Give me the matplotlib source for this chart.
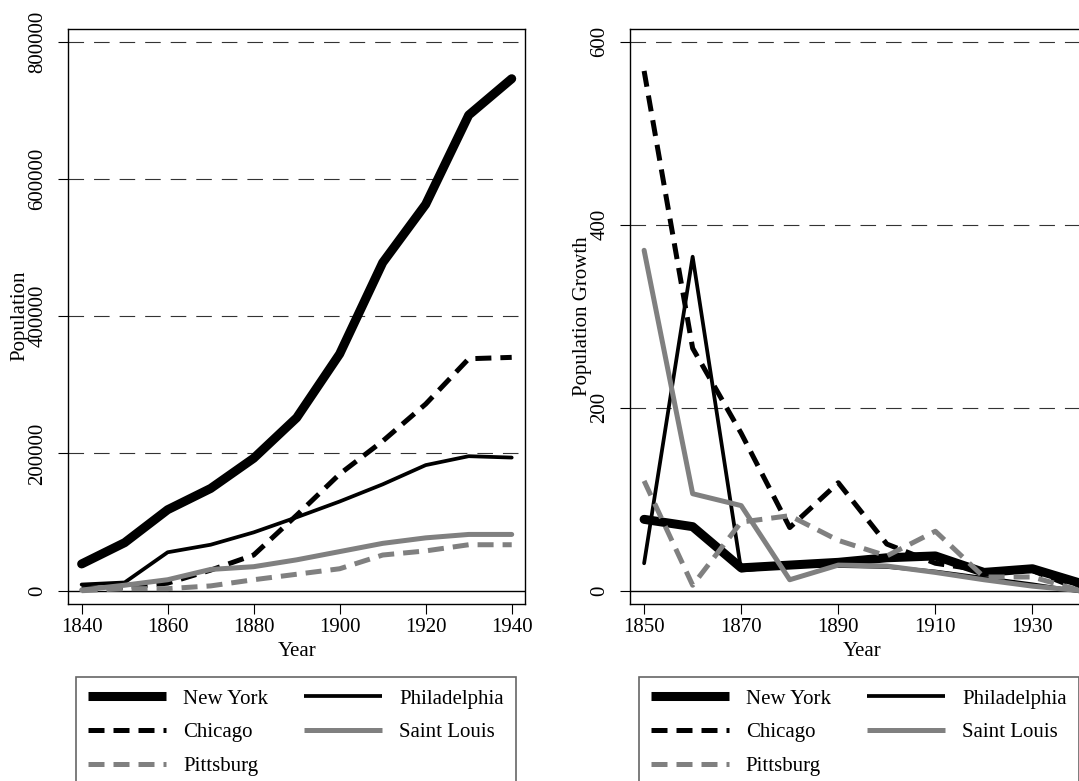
import matplotlib
matplotlib.use("Agg")
import matplotlib.pyplot as plt
from matplotlib.lines import Line2D

plt.rcParams['font.family'] = ['Liberation Serif', 'DejaVu Serif']

# Population by census year
years = [1840, 1850, 1860, 1870, 1880, 1890, 1900, 1910, 1920, 1930, 1940]
new_york = [39000, 70000, 118000, 149000, 193000, 252000, 345000, 478000, 563000, 693000, 746000]
chicago = [3000, 5000, 11000, 30000, 52000, 110000, 170000, 218000, 272000, 338000, 340000]
philadelphia = [9000, 12000, 56000, 67000, 85000, 107000, 130000, 155000, 183000, 196000, 194000]
saint_louis = [1000, 8000, 16000, 31000, 35000, 45000, 57000, 69000, 77000, 82000, 82000]
pittsburg = [0, 3000, 3000, 7000, 16000, 24000, 32000, 52000, 58000, 67000, 67000]

# Population growth (per decade)
g_years = [1850, 1860, 1870, 1880, 1890, 1900, 1910, 1920, 1930, 1940]
g_new_york = [78, 70, 25, 28, 31, 36, 38, 20, 24, 8]
g_chicago = [568, 265, 172, 69, 118, 51, 30, 22, 22, 1]
g_philadelphia = [30, 365, 22, 27, 27, 26, 21, 14, 7, -1]
g_saint_louis = [372, 106, 93, 12, 28, 27, 20, 12, 5, 0]
g_pittsburg = [120, 6, 75, 82, 55, 38, 65, 15, 15, 0]

names = ["New York", "Chicago", "Pittsburg", "Philadelphia", "Saint Louis"]

styles = {
    "New York": dict(color="black", lw=6.5),
    "Philadelphia": dict(color="black", lw=2.7),
    "Chicago": dict(color="black", lw=3.6, dashes=(3.2, 1.8)),
    "Saint Louis": dict(color="#808080", lw=3.6),
    "Pittsburg": dict(color="#808080", lw=3.6, dashes=(3.2, 1.8)),
}

FS = 15

fig = plt.figure(figsize=(10.79, 7.81), dpi=100)
ax1 = fig.add_axes([0.0633, 0.2270, 0.4233, 0.7363])
ax2 = fig.add_axes([0.5839, 0.2270, 0.4310, 0.7363])


def draw(ax, x, series, ylim, yticks, ylabel, xticks, xlim):
    for yt in yticks:
        if yt == 0:
            ax.axhline(0, color="black", lw=1.0, zorder=1)
        else:
            ax.axhline(yt, color="#333333", lw=0.8, dashes=(14, 9), zorder=1)
    for name in ["New York", "Philadelphia", "Chicago", "Saint Louis", "Pittsburg"]:
        ax.plot(x, series[name], zorder=3, solid_capstyle="round",
                solid_joinstyle="round", **styles[name])
    ax.set_xlim(*xlim)
    ax.set_ylim(*ylim)
    ax.set_xticks(xticks)
    ax.set_yticks(yticks)
    ax.set_yticklabels([str(v) for v in yticks], rotation=90, va="center")
    ax.tick_params(axis="both", direction="out", length=7, width=0.8, labelsize=FS)
    ax.tick_params(axis="y", pad=8)
    ax.tick_params(axis="x", pad=3)
    for s in ax.spines.values():
        s.set_linewidth(1.0)
    ax.set_xlabel("Year", fontsize=FS, labelpad=4)
    ax.set_ylabel(ylabel, fontsize=FS, labelpad=-1)


draw(ax1, years, {"New York": new_york, "Chicago": chicago, "Pittsburg": pittsburg,
                  "Philadelphia": philadelphia, "Saint Louis": saint_louis},
     (-18944, 818944), [0, 200000, 400000, 600000, 800000], "Population",
     [1840, 1860, 1880, 1900, 1920, 1940], (1836.9, 1943.1))
draw(ax2, g_years, {"New York": g_new_york, "Chicago": g_chicago, "Pittsburg": g_pittsburg,
                    "Philadelphia": g_philadelphia, "Saint Louis": g_saint_louis},
     (-14.2, 614.2), [0, 200, 400, 600], "Population Growth",
     [1850, 1870, 1890, 1910, 1930], (1847.1, 1942.9))

# legend keys with flat ends
handles = [Line2D([], [], solid_capstyle="butt", dash_capstyle="butt", **styles[n]) for n in names]

for x0 in [76 / 1079, 639 / 1079]:
    leg = fig.legend(handles, names, loc="upper left", bbox_to_anchor=(x0, 1 - 677 / 781),
                     ncol=2, fontsize=FS, frameon=True, fancybox=False,
                     handlelength=3.75, handletextpad=0.8, columnspacing=1.75,
                     labelspacing=0.68, borderpad=0.58, borderaxespad=0)
    leg.get_frame().set_edgecolor("#404040")
    leg.get_frame().set_linewidth(1.2)

fig.savefig("out.png", dpi=100)
